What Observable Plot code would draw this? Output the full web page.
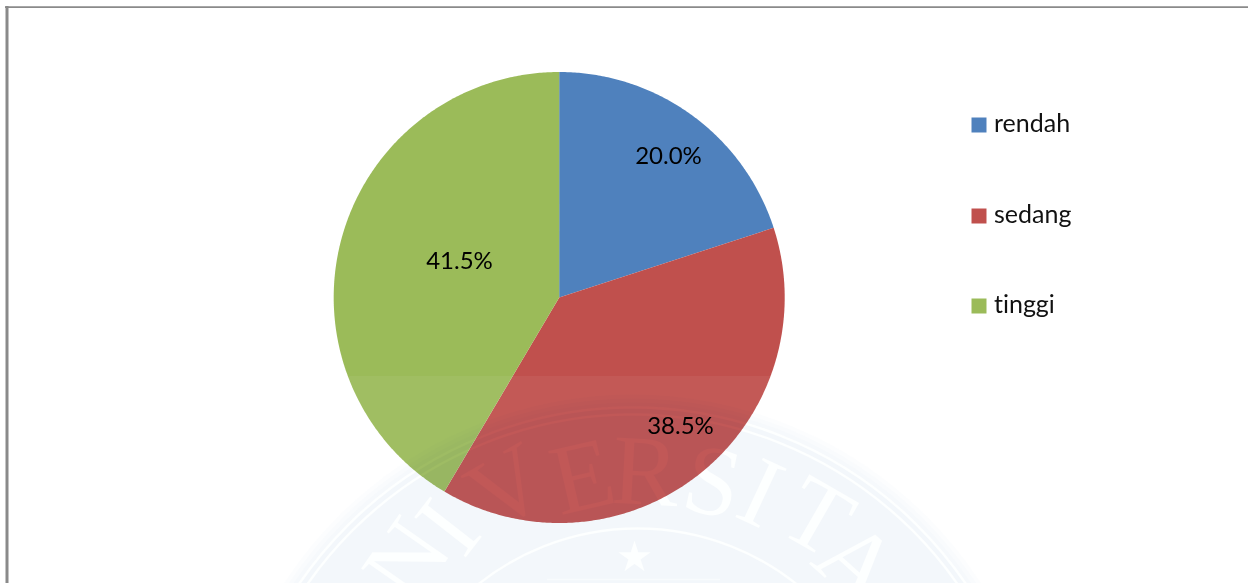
<!DOCTYPE html>
<html>
<head>
<meta charset="utf-8">
<script src="https://cdn.jsdelivr.net/npm/d3@7"></script>
<script src="https://cdn.jsdelivr.net/npm/@observablehq/plot@0.6"></script>
<style>
  html, body { margin: 0; padding: 0; background: #fff; }
  svg { display: block; }
  svg text { font-variant-ligatures: none; }
</style>
</head>
<body>
<div id="chart"></div>
<script>
// Share of respondents per level
const categories = ["rendah", "sedang", "tinggi"];
const shares = [20.0, 38.5, 41.5];
const sliceColors = ["#4F81BD", "#C0504D", "#9BBB59"];

// Percentage label anchors, one per category
const labelX = [668, 680, 459];
const labelY = [156, 426, 261];

// Legend rows
const legendY = [124.5, 215.5, 305.5];

// University seal printed faintly across the lower part of the page
const sealLetters = ["N", "I", "V", "E", "R", "S", "I", "T", "A"];
const sealLetterX = [407, 448, 507, 582, 645, 712, 760, 817, 856];
const sealLetterY = [560, 527, 487, 477, 472, 482, 493, 517, 563];
const sealLetterTurn = [-55, -52, -30, -13, 3, 12, 25, 30, 42];
const sealDiscRadii = [416, 412, 408, 404];
const sealRings = [403, 396];

const W = 1248, H = 583;
const pieCenter = [558.7, 297], pieRadius = 225.5;
const sealCenter = [632, 810];

// Outline of each slice, walked clockwise from twelve o'clock
const arcs = d3.pie().sort(null).value(d => d)(shares);
const sliceOutlines = arcs.flatMap((a, i) => {
  const steps = Math.ceil((a.endAngle - a.startAngle) / (Math.PI / 360));
  const pts = [{slice: categories[i], x: pieCenter[0], y: pieCenter[1]}];
  for (let s = 0; s <= steps; ++s) {
    const t = a.startAngle + (a.endAngle - a.startAngle) * s / steps;
    pts.push({
      slice: categories[i],
      x: pieCenter[0] + pieRadius * Math.sin(t),
      y: pieCenter[1] - pieRadius * Math.cos(t)
    });
  }
  return pts;
});

const slices = categories.map((c, i) => ({c, share: shares[i], x: labelX[i], y: labelY[i], ly: legendY[i]}));
const letters = sealLetters.map((l, i) => ({l, x: sealLetterX[i], y: sealLetterY[i], rotate: sealLetterTurn[i]}));

// Colour-dodge with this fill lifts most of the seal's tint off what lies under it
const sealClear = "rgb(10,8,4)";
const bodyFont = "Lato, Carlito, sans-serif";

const chart = Plot.plot({
  width: W,
  height: H,
  margin: 0,
  x: {domain: [0, W], range: [0, W], axis: null},
  y: {domain: [0, H], range: [0, H], axis: null},
  r: {type: "identity"},
  color: {type: "ordinal", domain: categories, range: sliceColors},
  marks: [
    Plot.line(sliceOutlines, {x: "x", y: "y", z: "slice", fill: "slice", stroke: "none", curve: "linear-closed"}),

    // Seal: pale band, soft-edged tinted disc, then rings, lettering and star cut out of the tint
    Plot.rect([0], {x1: 0, x2: W, y1: 376, y2: H, fill: "white", fillOpacity: 0.055}),
    Plot.dot(sealDiscRadii, {x: sealCenter[0], y: sealCenter[1], r: d => d, fill: "#f3f7fb", fillOpacity: 0.25, stroke: "none", mixBlendMode: "multiply"}),
    Plot.dot(sealRings, {x: sealCenter[0], y: sealCenter[1], r: d => d, fill: "none", stroke: sealClear, strokeWidth: 2.5, mixBlendMode: "color-dodge"}),
    Plot.dot([255], {x: 637, y: 783, r: d => d, fill: "none", stroke: sealClear, strokeWidth: 2.5, mixBlendMode: "color-dodge"}),
    Plot.text(letters, {x: "x", y: "y", text: "l", rotate: "rotate", fill: sealClear, fontFamily: "Liberation Serif", fontSize: 100, mixBlendMode: "color-dodge"}),
    Plot.dot([10.2], {x: 634, y: 557, r: d => d, symbol: "star", fill: sealClear, stroke: "none", mixBlendMode: "color-dodge"}),
    Plot.ruleY([579], {x1: 547, x2: 720, stroke: sealClear, strokeWidth: 1.5, strokeOpacity: 0.5, mixBlendMode: "color-dodge"}),

    // Page frame, top and left edges
    Plot.ruleX([6.5], {y1: 6, y2: H, stroke: "#8a8a8a", strokeWidth: 3}),
    Plot.ruleY([6.7], {x1: 5, x2: W, stroke: "#8a8a8a", strokeWidth: 1.8}),

    // Percentage labels
    Plot.text(slices, {x: "x", y: "y", text: d => d.share.toFixed(1) + "%", fill: "black", fontFamily: bodyFont, fontSize: 24}),

    // Legend
    Plot.dot(slices, {x: 978.5, y: "ly", fill: "c", stroke: "none", symbol: "square", r: 8.46}),
    Plot.text(slices, {x: 993.5, y: "ly", dy: -1, text: "c", textAnchor: "start", fill: "#111", fontFamily: bodyFont, fontSize: 25})
  ]
});
document.getElementById("chart").append(chart);
</script>
</body>
</html>
